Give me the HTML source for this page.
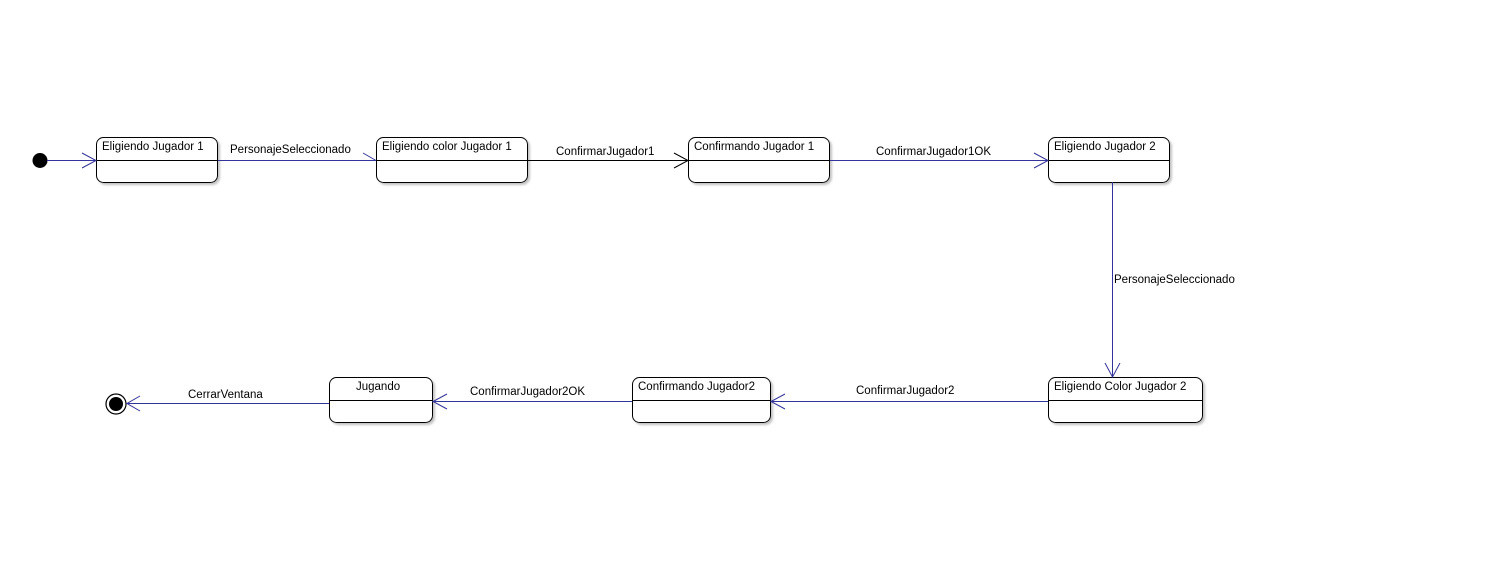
<!DOCTYPE html>
<html><head><meta charset="utf-8"><style>
html,body{margin:0;padding:0;background:#fff;}
svg text{font-family:"Liberation Sans",sans-serif;font-size:11.5px;fill:#000;}
</style></head><body>
<svg width="1487" height="558" viewBox="0 0 1487 558" xmlns="http://www.w3.org/2000/svg">
<defs>
<filter id="sh" x="-10%" y="-10%" width="130%" height="140%"><feDropShadow dx="2" dy="2" stdDeviation="1" flood-color="#999" flood-opacity="0.6"/></filter>
</defs>
<g fill="#fff" stroke="#000" stroke-width="1" filter="url(#sh)">
<rect x="96.5" y="137.5" width="121" height="45" rx="7"/>
<rect x="376.5" y="137.5" width="151" height="45" rx="7"/>
<rect x="688.5" y="137.5" width="141" height="45" rx="7"/>
<rect x="1048.5" y="137.5" width="121" height="45" rx="7"/>
<rect x="329.5" y="377.5" width="103" height="45" rx="7"/>
<rect x="632.5" y="377.5" width="138" height="45" rx="7"/>
<rect x="1048.5" y="377.5" width="154" height="45" rx="7"/>
</g>
<g stroke="#000" stroke-width="1">
<line x1="96" y1="160.5" x2="218" y2="160.5"/>
<line x1="376" y1="160.5" x2="528" y2="160.5"/>
<line x1="688" y1="160.5" x2="830" y2="160.5"/>
<line x1="1048" y1="160.5" x2="1170" y2="160.5"/>
<line x1="329" y1="400.5" x2="433" y2="400.5"/>
<line x1="632" y1="400.5" x2="771" y2="400.5"/>
<line x1="1048" y1="400.5" x2="1203" y2="400.5"/>
</g>
<text x="102" y="150">Eligiendo Jugador 1</text>
<text x="382" y="150">Eligiendo color Jugador 1</text>
<text x="694" y="150">Confirmando Jugador 1</text>
<text x="1054" y="150">Eligiendo Jugador 2</text>
<text x="356" y="390">Jugando</text>
<text x="638" y="390">Confirmando Jugador2</text>
<text x="1054" y="390">Eligiendo Color Jugador 2</text>
<circle cx="40" cy="160.5" r="7.5" fill="#000"/>
<circle cx="116" cy="404" r="10" fill="#fff" stroke="#000" stroke-width="1.2"/>
<circle cx="116" cy="404" r="7" fill="#000"/>
<g stroke="#33339a" stroke-width="1" fill="none">
<line x1="47" y1="160.5" x2="96" y2="160.5"/>
<polyline points="82,153 96,160.5 82,168"/>
<line x1="218" y1="160.5" x2="376" y2="160.5"/>
<polyline points="363,153 376,160.5"/>
<line x1="830" y1="160.5" x2="1048" y2="160.5"/>
<polyline points="1034,153 1048,160.5 1034,168"/>
<line x1="1112.5" y1="182" x2="1112.5" y2="377"/>
<polyline points="1105,363 1112.5,377 1120,363"/>
<line x1="1048" y1="401.5" x2="771" y2="401.5"/>
<polyline points="785,394 771,401.5 785,409"/>
<line x1="632" y1="401.5" x2="433" y2="401.5"/>
<polyline points="447,394 433,401.5 447,409"/>
<line x1="329" y1="403.5" x2="127" y2="403.5"/>
<polyline points="140,396 127,403.5 140,411"/>
</g>
<g stroke="#000" stroke-width="1" fill="none">
<line x1="528" y1="160.5" x2="688" y2="160.5"/>
<polyline points="674,153 688,160.5 674,168"/>
</g>
<text x="230" y="153">PersonajeSeleccionado</text>
<text x="556" y="155">ConfirmarJugador1</text>
<text x="876" y="155">ConfirmarJugador1OK</text>
<text x="1114" y="283">PersonajeSeleccionado</text>
<text x="856" y="394">ConfirmarJugador2</text>
<text x="470" y="395">ConfirmarJugador2OK</text>
<text x="188" y="398">CerrarVentana</text>
</svg>
</body></html>
